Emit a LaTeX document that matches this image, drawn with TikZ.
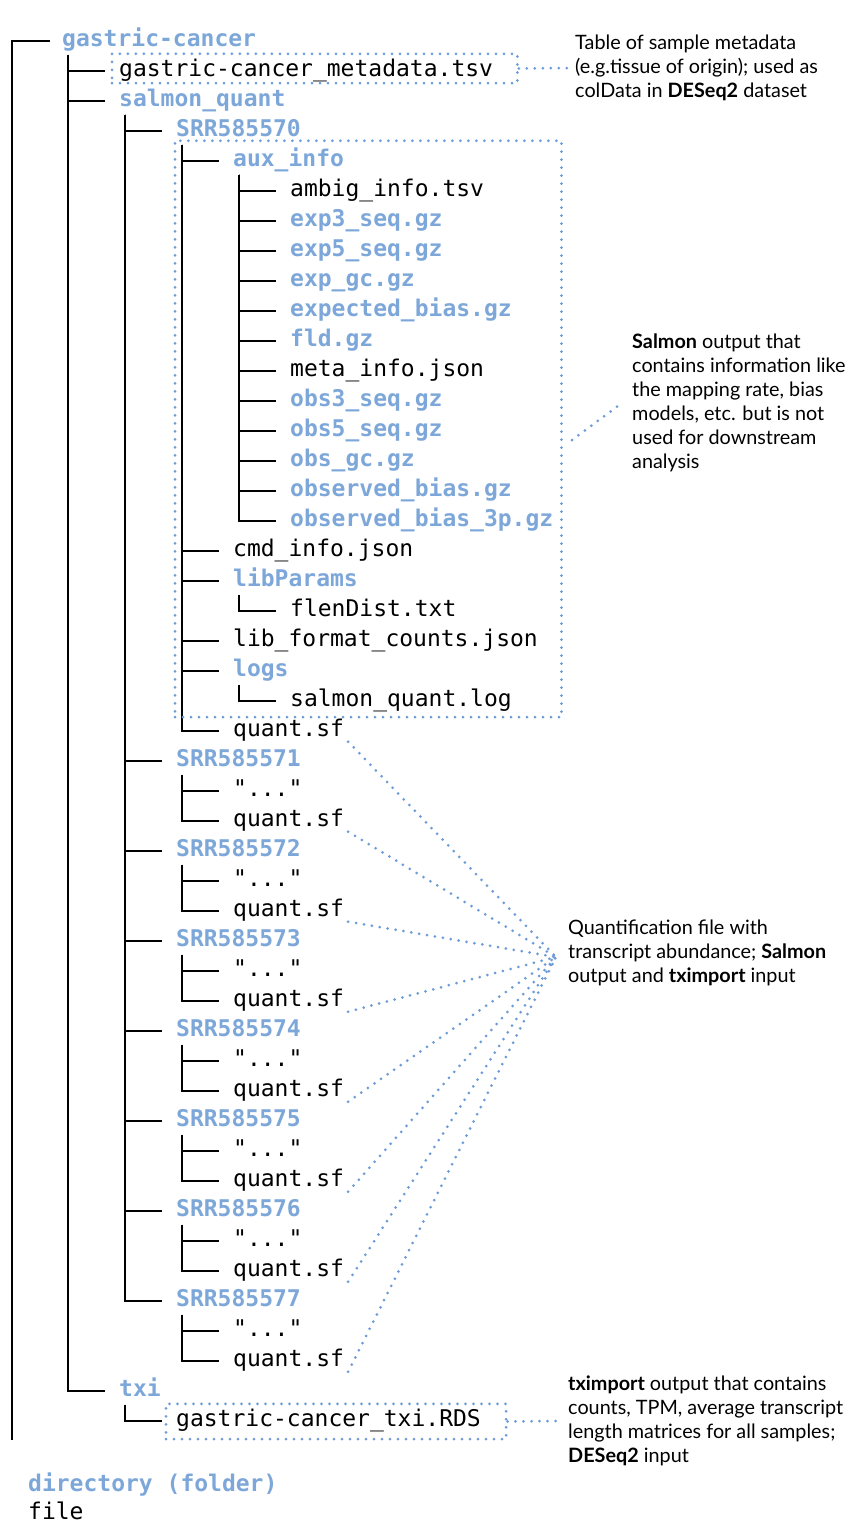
\documentclass[tikz,border=0pt]{standalone}
\usepackage{fontspec}
\setmainfont{Lato}
\setmonofont{DejaVu Sans Mono}
\usetikzlibrary{fit}
\definecolor{dirblue}{RGB}{125,167,217}
\definecolor{dotblue}{RGB}{108,155,216}
\tikzset{
  file/.style={anchor=west,inner sep=0pt,yshift=-3pt,text height=16pt,text depth=5pt,font=\ttfamily\fontsize{23}{28}\selectfont},
  dir/.style={file,text=dirblue,font=\ttfamily\bfseries\fontsize{23}{28}\selectfont},
  note/.style={anchor=west,align=left,inner sep=0pt,font=\fontsize{19.8}{24}\selectfont},
  tree/.style={line width=2pt},
  dotline/.style={draw=dotblue,line width=3pt,line cap=round,dash pattern=on 0pt off 8pt},
  dotbox/.style={dotline,inner sep=0pt}
}
\begin{document}
\begin{tikzpicture}[x=1pt,y=-1pt]
\useasboundingbox (0,0) rectangle (864,1536);
% top levels
\node[dir] (root) at (62,38) {gastric-cancer};
\node[file] (meta) at (119,68) {gastric-cancer\_metadata.tsv};
\node[dir] (squant) at (119,98) {salmon\_quant};
\node[dir] (s0) at (176,128) {SRR585570};
\node[dir] (aux) at (233,158) {aux\_info};
\foreach \n/\t/\s [count=\i] in {ambig/ambig\_info.tsv/file,exp3/exp3\_seq.gz/dir,exp5/exp5\_seq.gz/dir,
  expgc/exp\_gc.gz/dir,expbias/expected\_bias.gz/dir,fld/fld.gz/dir,metainfo/meta\_info.json/file,
  obs3/obs3\_seq.gz/dir,obs5/obs5\_seq.gz/dir,obsgc/obs\_gc.gz/dir,obsbias/observed\_bias.gz/dir,
  obsbias3p/observed\_bias\_3p.gz/dir}
  \node[\s] (\n) at (290,158+30*\i) {\t};
\node[file] (cmd) at (233,548) {cmd\_info.json};
\node[dir] (libp) at (233,578) {libParams};
\node[file] (flen) at (290,608) {flenDist.txt};
\node[file] (libfmt) at (233,638) {lib\_format\_counts.json};
\node[dir] (logs) at (233,668) {logs};
\node[file] (slog) at (290,698) {salmon\_quant.log};
\node[file] (q0) at (233,728) {quant.sf};
\foreach \k [evaluate=\k as \yy using 668+90*\k] in {1,...,7}{
  \node[dir] (s\k) at (176,\yy) {SRR58557\k};
  \node[file] (d\k) at (233,\yy+30) {"..."};
  \node[file] (q\k) at (233,\yy+60) {quant.sf};
}
\node[dir] (txi) at (119,1388) {txi};
\node[file] (rds) at (176,1418) {gastric-cancer\_txi.RDS};
% legend
\node[dir] (legdir) at (28,1483) {directory (folder)};
\node[file] (legfile) at (28,1511) {file};

% tree lines
\coordinate (bottom) at (12,1440);
\draw[tree] (bottom) |- ([xshift=-12pt]root.west);
\foreach \p/\c in {root/meta,root/squant,root/txi,squant/s0,squant/s1,squant/s2,squant/s3,squant/s4,
  squant/s5,squant/s6,squant/s7,s0/aux,s0/cmd,s0/libp,s0/libfmt,s0/logs,s0/q0,aux/ambig,aux/exp3,
  aux/exp5,aux/expgc,aux/expbias,aux/fld,aux/metainfo,aux/obs3,aux/obs5,aux/obsgc,aux/obsbias,
  aux/obsbias3p,libp/flen,logs/slog,txi/rds}
  \draw[tree] ([xshift=6pt,yshift=-3pt]\p.south west) |- ([xshift=-14pt]\c.west);
\foreach \k in {1,...,7}{
  \draw[tree] ([xshift=6pt,yshift=-3pt]s\k.south west) |- ([xshift=-14pt]d\k.west);
  \draw[tree] ([xshift=6pt,yshift=-3pt]s\k.south west) |- ([xshift=-14pt]q\k.west);
}

% notes
\node[note] (metanote) at (575,68) {Table of sample metadata\\(e.g.tissue of origin); used as\\colData in \textbf{DESeq2} dataset};
\node[note] (salnote) at (632,403) {\textbf{Salmon} output that\\contains information like\\the mapping rate, bias\\models, etc. but is not\\used for downstream\\analysis};
\node[note] (quantnote) at (568,953) {Quantification file with\\transcript abundance; \textbf{Salmon}\\output and \textbf{tximport} input};
\node[note] (txinote) at (568,1421) {\textbf{tximport} output that contains\\counts, TPM, average transcript\\length matrices for all samples;\\\textbf{DESeq2} input};

% dotted boxes and pointers
\node[dotbox,fit={([xshift=-7pt,yshift=6.5pt]meta.north west) ([xshift=24pt,yshift=-1.5pt]meta.south east)}] (metabox) {};
\node[dotbox,fit={([xshift=-58pt,yshift=9.5pt]aux.north west) ([yshift=-5.5pt]slog.south) ([xshift=8pt]obsbias3p.east)}] (auxbox) {};
\node[dotbox,fit={([xshift=-10pt,yshift=6.5pt]rds.north west) ([xshift=25pt,yshift=-7.5pt]rds.south east)}] (rdsbox) {};
\draw[dotline] (metabox.east) -- ([xshift=-5pt]metanote.west);
\draw[dotline] ([xshift=9pt,yshift=-11pt]auxbox.east) -- ([xshift=-10pt]salnote.west);
\draw[dotline] (rdsbox.east) -- ([xshift=-12pt]txinote.west);
\foreach \q in {q0,q1,q2,q3,q4,q5,q6,q7}
  \draw[dotline] ([xshift=4pt]\q.south east) -- ([xshift=-12pt,yshift=-4pt]quantnote.west);
\end{tikzpicture}
\end{document}
